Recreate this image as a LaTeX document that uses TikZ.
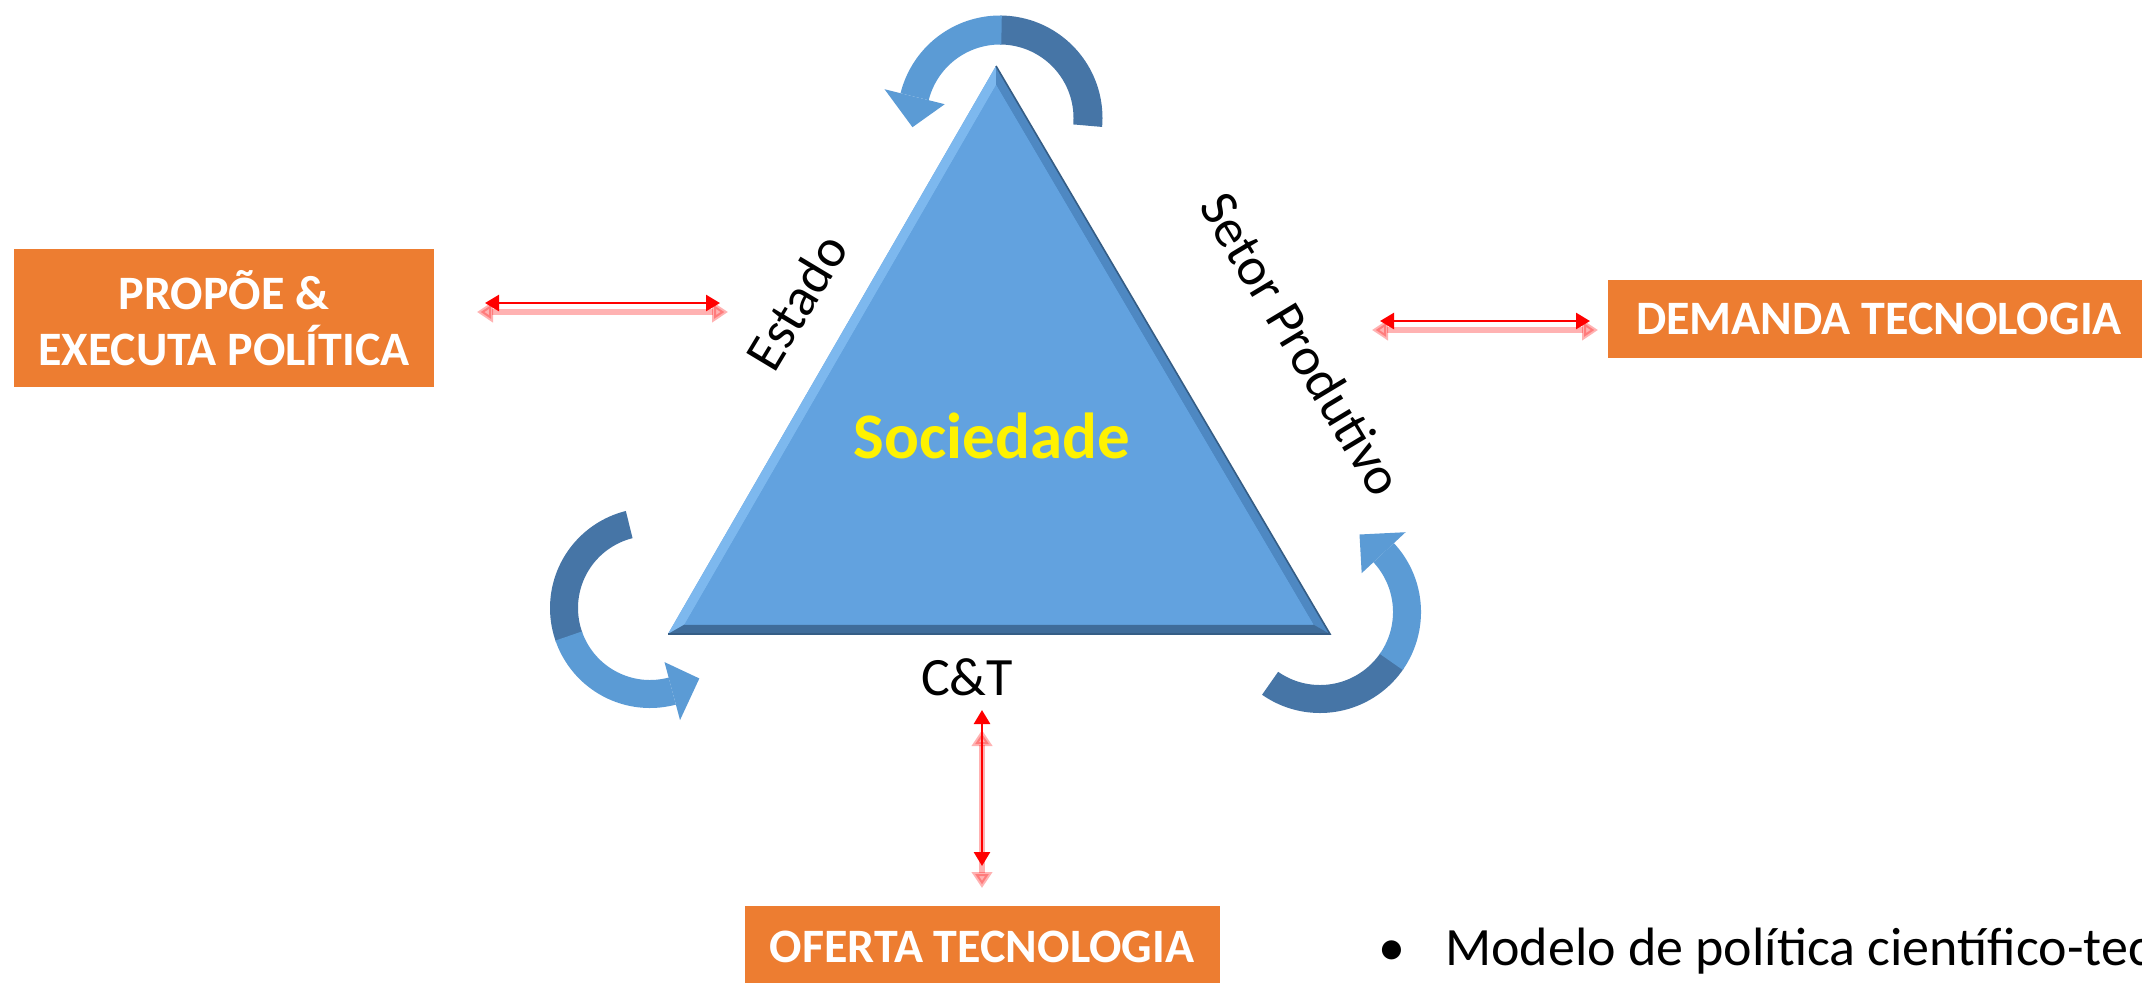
\documentclass[tikz,border=0pt]{standalone}
\usepackage{fontspec}
\setmainfont{Carlito}
\usetikzlibrary{arrows.meta,calc}
\definecolor{orangebox}{HTML}{ED7D31}
\definecolor{triblue}{HTML}{62A2DF}
\definecolor{bevlight}{HTML}{7DB8EE}
\definecolor{bevmid}{HTML}{4E88C2}
\definecolor{bevdark}{HTML}{3F6C9A}
\definecolor{edgedark}{HTML}{355D85}
\definecolor{arrlight}{HTML}{5B9BD5}
\definecolor{arrdark}{HTML}{4675A6}
% ribbon: cx cy r w t0 t1 colour
\newcommand\myribbon[7]{%
  \fill[#7] plot[domain=#5:#6,samples=40] ({#1+(#3+#4/2)*cos(\x)},{#2+(#3+#4/2)*sin(\x)})
    -- plot[domain=#6:#5,samples=40] ({#1+(#3-#4/2)*cos(\x)},{#2+(#3-#4/2)*sin(\x)}) -- cycle;}
% head: cx cy r hw tb tt colour
\newcommand\myhead[7]{%
  \fill[#7] ({#1+(#3-#4)*cos(#5)},{#2+(#3-#4)*sin(#5)})
    -- ({#1+(#3+#4)*cos(#5)},{#2+(#3+#4)*sin(#5)})
    -- ({#1+#3*cos(#6)},{#2+#3*sin(#6)}) -- cycle;}
\tikzset{
  box/.style={fill=orangebox, text=white, inner sep=0pt, align=center,
    font=\fontsize{24}{28}\selectfont\bfseries},
  lbl/.style={text=black, inner sep=0pt, font=\fontsize{27}{30}\selectfont},
  redarr/.style={draw=red, line width=1.3pt,
    {Triangle[length=7pt,width=8pt]}-{Triangle[length=7pt,width=8pt]}},
  redglow/.style={draw=red, opacity=0.3, line width=3pt,
    {Triangle[length=8pt,width=10pt]}-{Triangle[length=8pt,width=10pt]}}
}
\begin{document}
\begin{tikzpicture}[x=0.5pt,y=-0.5pt]
\useasboundingbox (0,0) rectangle (2142,982);
\fill[white] (0,0) rectangle (2142,982);

% triangle with bevel
\coordinate (A) at (996,66);
\coordinate (B) at (668,634);
\coordinate (C) at (1330,634);
\coordinate (I) at (998,445);
\coordinate (A2) at ($(I)!0.95!(A)$);
\coordinate (B2) at ($(I)!0.95!(B)$);
\coordinate (C2) at ($(I)!0.95!(C)$);
\fill[triblue] (A)--(B)--(C)--cycle;
\fill[bevlight] (A)--(B)--(B2)--(A2)--cycle;
\fill[bevmid] (A)--(C)--(C2)--(A2)--cycle;
\fill[bevdark] (B)--(C)--(C2)--(B2)--cycle;
\fill[triblue] (A2)--(B2)--(C2)--cycle;
\draw[edgedark, line width=0.8pt, line join=miter] (A)--(C)--(B);

% curved arrows
% top
\myribbon{1000}{118}{88}{29}{5}{-90}{arrdark}
\myribbon{1000}{118}{88}{29}{-89}{-166}{arrlight}
\myhead{1000}{118}{88}{31}{-166}{-186}{arrlight}
% bottom left
\myribbon{650}{608}{86}{28}{256}{160}{arrdark}
\myribbon{650}{608}{86}{28}{161}{75}{arrlight}
\myhead{650}{608}{86}{30}{75}{55}{arrlight}
% bottom right
\myribbon{1320}{612}{87}{28}{125}{34}{arrdark}
\myribbon{1320}{612}{87}{28}{35}{-43}{arrlight}
\myhead{1320}{612}{87}{30}{-43}{-63}{arrlight}

% texts
\node[font=\fontsize{32.5}{36}\selectfont\bfseries, text=yellow, inner sep=0pt] (soc) at (992,436) {Sociedade};
\node[lbl, rotate=59] (estado) at (796,302) {Estado};
\node[lbl, rotate=-59] (setor) at (1302,344) {Setor Produtivo};
\node[lbl] (ct) at (967,677) {C\&T};

% boxes
\node[box, minimum width=210pt, minimum height=69pt] (propoe) at (224,318) {PROPÕE \&\\EXECUTA POLÍTICA};
\node[box, minimum width=271pt, minimum height=39pt] (demanda) at (1879,319) {DEMANDA TECNOLOGIA};
\node[box, minimum width=237.5pt, minimum height=41pt] (oferta) at (982,947) {OFERTA TECNOLOGIA};

\node[anchor=base west, inner sep=0pt, font=\fontsize{27}{30}\selectfont] (bullet) at (1378,965) {•\hspace{20pt}Modelo de política científico-tec};

% red double arrows
\coordinate (l1) at (485,303); \coordinate (l2) at (720,303);
\coordinate (r1) at (1380,321); \coordinate (r2) at (1590,321);
\coordinate (v1) at (982,710); \coordinate (v2) at (982,866);
\draw[redglow] ([shift={(-8,9)}]l1) -- ([shift={(8,9)}]l2);
\draw[redglow] ([shift={(-8,9)}]r1) -- ([shift={(8,9)}]r2);
\draw[redglow] ([shift={(0,20)}]v1) -- ([shift={(0,22)}]v2);
\draw[redarr] (l1) -- (l2);
\draw[redarr] (r1) -- (r2);
\draw[redarr] (v1) -- (v2);
\end{tikzpicture}
\end{document}
